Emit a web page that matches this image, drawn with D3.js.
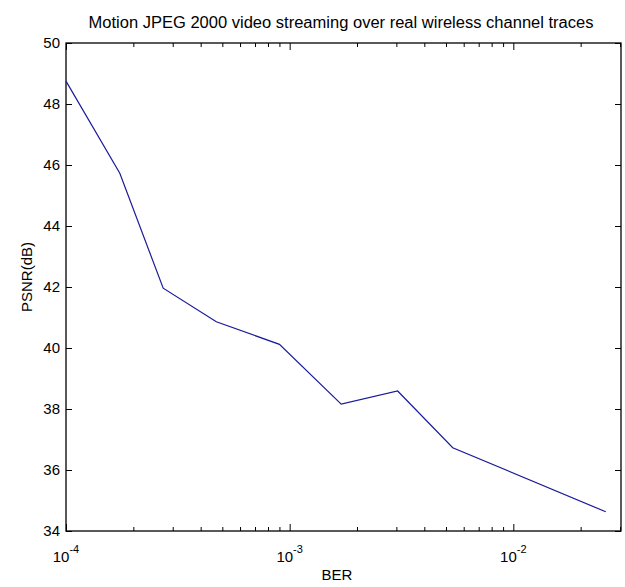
<!DOCTYPE html>
<html>
<head>
<meta charset="utf-8">
<script src="https://cdn.jsdelivr.net/npm/d3@7"></script>
<style>
  body { margin: 0; background: #fff; }
  text { font-family: "Liberation Sans", Arial, sans-serif; fill: #000; }
</style>
</head>
<body>
<script>
// data
var ber = [1.0e-4, 1.74e-4, 2.72e-4, 4.7e-4, 9.0e-4, 1.70e-3, 3.04e-3, 5.36e-3, 2.59e-2];
var psnr = [48.75, 45.73, 41.96, 40.86, 40.12, 38.16, 38.59, 36.73, 34.63];
var yTicks = [34, 36, 38, 40, 42, 44, 46, 48, 50];
var xDecades = [1e-4, 1e-3, 1e-2];
var xExponents = ['-4', '-3', '-2'];
var xMinor = [2e-4, 3e-4, 4e-4, 5e-4, 6e-4, 7e-4, 8e-4, 9e-4,
              2e-3, 3e-3, 4e-3, 5e-3, 6e-3, 7e-3, 8e-3, 9e-3, 2e-2, 3e-2];

const width = 625
const height = 587
const margin = ({top: 43, right: 4, bottom: 56, left: 66})

var x = d3.scaleLog()
  .domain([1e-4, 0.0303])
  .range([margin.left, width - margin.right]);

var y = d3.scaleLinear()
  .domain([34, 50])
  .range([height - margin.bottom, margin.top]);

const svg = d3.select('body').append('svg')
  .attr('width', width)
  .attr('height', height);

// ticks (inward, on all four sides like matlab)
function ticks(axis, vals, size, tx) {
  var g = svg.append('g')
    .attr('transform', tx)
    .call(axis.tickValues(vals).tickSize(size).tickFormat(''));
  g.select('.domain').remove();
  g.selectAll('line').attr('stroke', '#000');
  return g;
}
var bottom = height - margin.bottom;
ticks(d3.axisBottom(x), xMinor, -4, `translate(0,${bottom})`);
ticks(d3.axisBottom(x), xDecades, -7, `translate(0,${bottom})`);
ticks(d3.axisTop(x), xMinor, -4, `translate(0,${margin.top})`);
ticks(d3.axisTop(x), xDecades, -7, `translate(0,${margin.top})`);
ticks(d3.axisLeft(y), yTicks, -6, `translate(${margin.left},0)`);
ticks(d3.axisRight(y), yTicks, -6, `translate(${width - margin.right},0)`);

// frame
svg.append('rect')
  .attr('x', margin.left)
  .attr('y', margin.top)
  .attr('width', width - margin.right - margin.left)
  .attr('height', bottom - margin.top)
  .attr('fill', 'none')
  .attr('stroke', '#000')
  .attr('stroke-width', 1.3);

// y tick labels
svg.append('g').selectAll('text')
  .data(yTicks)
  .enter().append('text')
  .attr('x', margin.left - 6)
  .attr('y', d => y(d))
  .attr('dy', '0.36em')
  .attr('text-anchor', 'end')
  .attr('font-size', 15)
  .text(d => d);

// x tick labels as 10^n
var xl = svg.append('g').selectAll('text')
  .data(xDecades)
  .enter().append('text')
  .attr('x', d => x(d))
  .attr('y', bottom + 31)
  .attr('text-anchor', 'middle')
  .attr('font-size', 15);
xl.append('tspan').text('10');
xl.append('tspan')
  .attr('dy', -9)
  .attr('font-size', 11)
  .text((d, i) => xExponents[i]);

// the curve
var pts = ber.map((b, i) => [b, psnr[i]]);
svg.append('path')
  .datum(pts)
  .attr('fill', 'none')
  .attr('stroke', '#1a1a9a')
  .attr('stroke-width', 1.2)
  .attr('d', d3.line().x(d => x(d[0])).y(d => y(d[1])));

// labels
svg.append('text')
  .attr('x', 341)
  .attr('y', 28)
  .attr('text-anchor', 'middle')
  .attr('font-size', 16)
  .attr('textLength', 505)
  .attr('lengthAdjust', 'spacingAndGlyphs')
  .text('Motion JPEG 2000 video streaming over real wireless channel traces');

svg.append('text')
  .attr('x', 337)
  .attr('y', 580)
  .attr('text-anchor', 'middle')
  .attr('font-size', 15)
  .text('BER');

svg.append('text')
  .attr('transform', 'translate(32,277) rotate(-90)')
  .attr('text-anchor', 'middle')
  .attr('font-size', 15)
  .text('PSNR(dB)');
</script>
</body>
</html>
